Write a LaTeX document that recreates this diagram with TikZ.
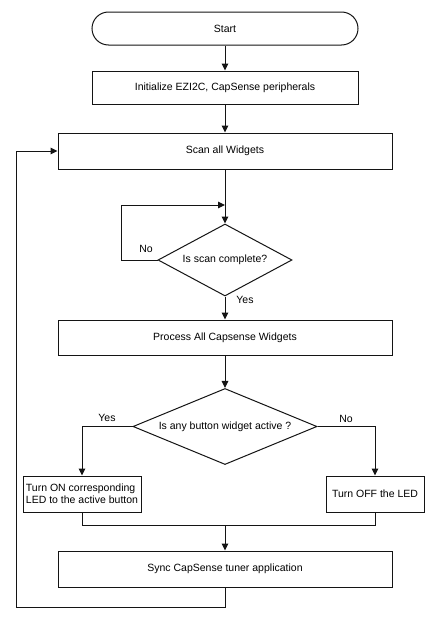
\documentclass[tikz,border=0pt]{standalone}
\usepackage{fontspec}
\setmainfont{Liberation Sans}
\usetikzlibrary{arrows.meta,shapes.geometric}
\definecolor{ln}{RGB}{20,20,20}
\begin{document}
\begin{tikzpicture}[x=1pt,y=-1pt,
  every node/.style={font=\fontsize{10.5}{12.3}\selectfont, text=black},
  flow/.style={draw=ln, line width=1pt},
  arr/.style={flow, -{Triangle[length=7pt,width=6.5pt]}},
  procbox/.style={flow, rectangle, inner sep=0pt, minimum width=#1, minimum height=34pt},
  decide/.style={flow, diamond, inner sep=0pt, aspect=2}]
\useasboundingbox[fill=white] (0,0) rectangle (441,621);
\node[procbox=266pt, rounded corners=16.5pt, minimum height=33pt] (start) at (225,28.5) {Start};
\node[procbox=266pt, minimum height=33pt] (init) at (225,87.5) {Initialize EZI2C, CapSense peripherals};
\node[procbox=334pt, minimum height=36pt] (scan) at (225,151) {Scan all Widgets};
\node[decide, minimum width=134pt, minimum height=72pt] (d1) at (225,260) {Is scan complete?};
\node[procbox=334pt, minimum height=35pt] (proc) at (225,337.5) {Process All Capsense Widgets};
\node[decide, minimum width=184pt, minimum height=71pt] (d2) at (225,426.5) {Is any button widget active ?};
\node[procbox=118pt, minimum height=36pt, align=left] (on) at (82,494) {Turn ON corresponding\\LED to the active button};
\node[procbox=98pt, minimum height=36pt] (off) at (375,494) {Turn OFF the LED};
\node[procbox=334pt, minimum height=36pt] (sync) at (225,569) {Sync CapSense tuner application};
\coordinate (j1) at (225,205);
\coordinate (lp) at (121,205);
\coordinate (ml) at (82,525);
\coordinate (mm) at (225,525);
\coordinate (mr) at (375,525);
\coordinate (r1) at (225,607);
\coordinate (r2) at (16,151);
\draw[arr] (start) -- (init);
\draw[arr] (init) -- (scan);
\draw[arr] (scan) -- (d1);
\draw[arr] (d1.west) -| (lp) -- (j1);
\draw[arr] (d1) -- (proc);
\draw[arr] (proc) -- (d2);
\draw[arr] (d2.west) -| (on.north);
\draw[arr] (d2.east) -| (off.north);
\draw[flow] (on.south) -- (ml) -- (mr) -- (off.south);
\draw[arr] (mm) -- (sync);
\draw[arr] (sync.south) -- (r1) -| (r2) -- (scan.west);
\node (lno1) at (146,249) {No};
\node (lyes1) at (245,300) {Yes};
\node (lyes2) at (107,418) {Yes};
\node (lno2) at (346,419) {No};
\end{tikzpicture}
\end{document}
